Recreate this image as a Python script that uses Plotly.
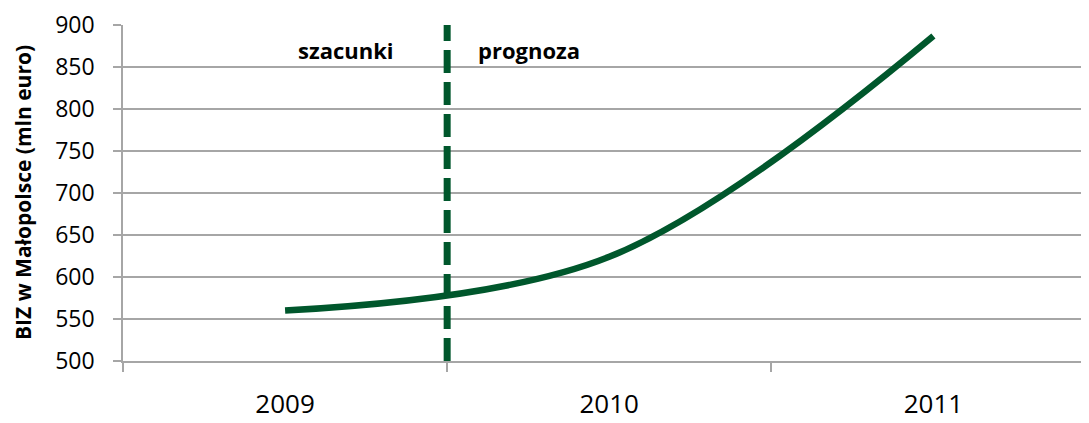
import plotly.graph_objects as go

years = ["2009", "2010", "2011"]
biz = [560, 624, 887]
y_ticks = [500, 550, 600, 650, 700, 750, 800, 850, 900]
y_title = "BIZ w Małopolsce (mln euro)"
label_left = "szacunki"
label_right = "prognoza"

GREEN = "#00572c"
GRID = "#a6a6a6"
FONT = "Open Sans"

# The page body has an 8px default margin; compensate so the plot area sits
# at the reference position (left 123, top 25, bottom 361).
OFF = 8
L, T, B = 123 - OFF, 25 - OFF, 62
W, H = 1089 - OFF, 423 - OFF
PW = W - L
PH = H - T - B

fig = go.Figure()
fig.add_trace(go.Scatter(
    x=years, y=biz, mode="lines",
    line=dict(color=GREEN, width=6.5, shape="spline", smoothing=1.0),
    showlegend=False, hoverinfo="skip",
))

fig.add_shape(type="line", xref="x", yref="y", x0=0.5, x1=0.5, y0=500, y1=900,
              line=dict(color=GREEN, width=7, dash="23px,9px"))

fig.add_annotation(text=f"<b>{label_left}</b>", xref="paper", yref="paper",
                   x=(345.5 - 123) / PW, y=(361 - 50) / PH, xanchor="center", yanchor="middle",
                   showarrow=False, font=dict(family=FONT, size=22, color="#000000"))
fig.add_annotation(text=f"<b>{label_right}</b>", xref="paper", yref="paper",
                   x=(529 - 123) / PW, y=(361 - 50) / PH, xanchor="center", yanchor="middle",
                   showarrow=False, font=dict(family=FONT, size=22, color="#000000"))
fig.add_annotation(text=f"<b>{y_title}</b>", xref="paper", yref="paper",
                   x=(23 - 123) / PW, y=0.5, xanchor="center", yanchor="middle",
                   textangle=-90, showarrow=False,
                   font=dict(family=FONT, size=21, color="#000000"))

fig.update_layout(
    width=W, height=H,
    margin=dict(l=L, r=0, t=T, b=B, pad=0, autoexpand=False),
    plot_bgcolor="white", paper_bgcolor="white",
    font=dict(family=FONT, color="#000000"),
)
fig.update_xaxes(
    type="category", range=[-0.5, 2.48], automargin=False,
    showgrid=False, showline=True, linecolor=GRID, linewidth=1.5,
    ticks="outside", tickson="boundaries", ticklen=9, tickcolor=GRID, tickwidth=1.5,
    tickfont=dict(family=FONT, size=26, color="#000000"), ticklabelstandoff=19,
)
fig.update_yaxes(
    range=[500, 900], tickvals=y_ticks, automargin=False,
    showgrid=True, gridcolor=GRID, gridwidth=1.5,
    showline=True, linecolor=GRID, linewidth=1.5,
    ticks="outside", ticklen=8, tickcolor=GRID, tickwidth=1.5,
    tickfont=dict(family=FONT, size=23, color="#000000"), ticklabelstandoff=14,
    zeroline=False,
)

fig.write_html("out.html")
